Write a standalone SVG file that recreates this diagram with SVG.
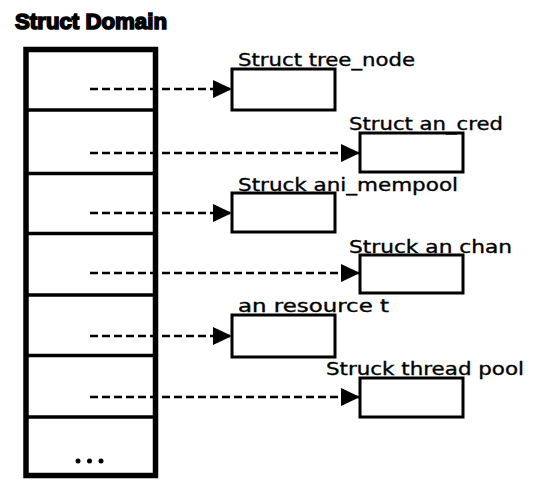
<svg xmlns="http://www.w3.org/2000/svg" width="533" height="480" viewBox="0 0 533 480">
  <style>
    .title { font-family: "Liberation Sans", Arial, sans-serif; font-weight: bold; font-size: 22px; fill: #000; stroke: #000; stroke-width: 1.6px; }
    .label { font-family: "DejaVu Sans", "Liberation Sans", sans-serif; font-size: 17.5px; fill: #000; stroke: #000; stroke-width: 0.35px; }
    .frame { fill: #fff; stroke: #000; stroke-width: 5.5; }
    .divider { stroke: #000; stroke-width: 3.5; }
    .box { fill: #fff; stroke: #000; stroke-width: 3; }
    .link { stroke: #000; stroke-width: 2.5; stroke-dasharray: 8 4; fill: none; }
  </style>
  <defs>
    <marker id="arrow" markerUnits="userSpaceOnUse" markerWidth="20" markerHeight="20" refX="19" refY="10" orient="auto">
      <path d="M0,1 L19,10 L0,19 Z" fill="#000"/>
    </marker>
  </defs>

  <rect width="533" height="480" fill="#fff"/>

  <text class="title" x="15" y="29" textLength="152" lengthAdjust="spacingAndGlyphs">Struct Domain</text>

  <!-- domain table -->
  <g id="domain">
    <rect class="frame" x="26" y="49.5" width="129.5" height="426"/>
    <line class="divider" x1="26" y1="110" x2="155.5" y2="110"/>
    <line class="divider" x1="26" y1="173.5" x2="155.5" y2="173.5"/>
    <line class="divider" x1="26" y1="233.5" x2="155.5" y2="233.5"/>
    <line class="divider" x1="26" y1="295" x2="155.5" y2="295"/>
    <line class="divider" x1="26" y1="355.5" x2="155.5" y2="355.5"/>
    <line class="divider" x1="26" y1="417" x2="155.5" y2="417"/>
    <circle cx="78" cy="461" r="2.5"/>
    <circle cx="89.5" cy="461" r="2.5"/>
    <circle cx="101" cy="461" r="2.5"/>
  </g>

  <!-- pointers from table slots to structures -->
  <g id="connectors">
    <line class="link" x1="90" y1="89" x2="232" y2="89" marker-end="url(#arrow)"/>
    <line class="link" x1="90" y1="153" x2="360" y2="153" marker-end="url(#arrow)"/>
    <line class="link" x1="90" y1="213" x2="232" y2="213" marker-end="url(#arrow)"/>
    <line class="link" x1="90" y1="273" x2="360" y2="273" marker-end="url(#arrow)"/>
    <line class="link" x1="90" y1="336" x2="232" y2="336" marker-end="url(#arrow)"/>
    <line class="link" x1="90" y1="397" x2="360" y2="397" marker-end="url(#arrow)"/>
  </g>

  <g id="tree_node">
    <rect class="box" x="232" y="69" width="103" height="41"/>
    <text class="label" x="238" y="66" textLength="177" lengthAdjust="spacingAndGlyphs">Struct tree_node</text>
  </g>

  <g id="an_cred">
    <rect class="box" x="360" y="133" width="103" height="39"/>
    <text class="label" x="349" y="130" textLength="154" lengthAdjust="spacingAndGlyphs">Struct an_cred</text>
  </g>

  <g id="ani_mempool">
    <rect class="box" x="232" y="193" width="103" height="39"/>
    <text class="label" x="238" y="191" textLength="220" lengthAdjust="spacingAndGlyphs">Struck ani_mempool</text>
  </g>

  <g id="an_chan">
    <rect class="box" x="360" y="255" width="103" height="38"/>
    <text class="label" x="349" y="253" textLength="163" lengthAdjust="spacingAndGlyphs">Struck an chan</text>
  </g>

  <g id="an_resource_t">
    <rect class="box" x="232" y="315" width="103" height="42"/>
    <text class="label" x="238" y="312" textLength="151" lengthAdjust="spacingAndGlyphs">an resource t</text>
  </g>

  <g id="thread_pool">
    <rect class="box" x="360" y="378" width="103" height="39"/>
    <text class="label" x="326" y="375" textLength="198" lengthAdjust="spacingAndGlyphs">Struck thread pool</text>
  </g>
</svg>
